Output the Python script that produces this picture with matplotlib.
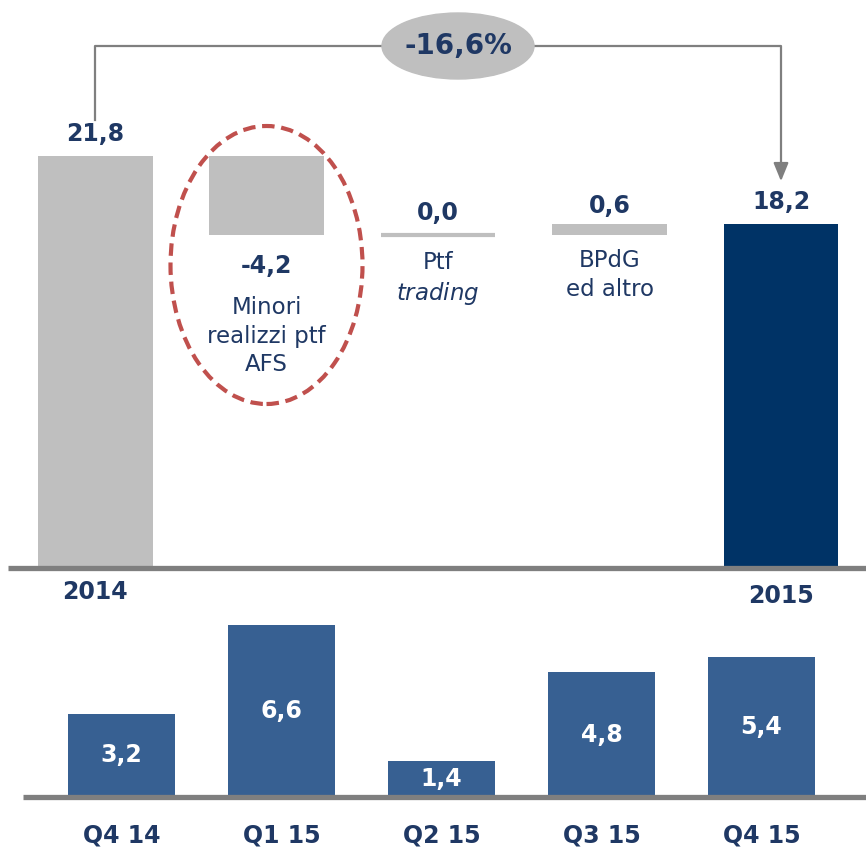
import matplotlib
matplotlib.use("Agg")
import matplotlib.pyplot as plt
from matplotlib.patches import Ellipse

# ---------------------------------------------------------------
#  Dati
# ---------------------------------------------------------------
wf_labels = ["2014", "Minori\nrealizzi ptf\nAFS", "Ptf\n$\\it{trading}$", "BPdG\ned altro", "2015"]
wf_start = 21.8
wf_deltas = [-4.2, 0.0, 0.6]
wf_end = 18.2
wf_value_text = ["21,8", "-4,2", "0,0", "0,6", "18,2"]
variazione = "-16,6%"

trim_labels = ["Q4 14", "Q1 15", "Q2 15", "Q3 15", "Q4 15"]
trim_values = [3.2, 6.6, 1.4, 4.8, 5.4]

# ---------------------------------------------------------------
#  Stile
# ---------------------------------------------------------------
GRIGIO = "#bfbfbf"
NAVY = "#003366"
BLU = "#376092"
TESTO = "#1f3864"
LINEA = "#7f7f7f"
ROSSO = "#c0504d"
FS = 17

plt.rcParams["font.family"] = "DejaVu Sans"

fig = plt.figure(figsize=(8.66, 8.5), dpi=100)
W, H = 866, 850

# ---------------------------------------------------------------
#  Waterfall (sopra)
# ---------------------------------------------------------------
ax = fig.add_axes([0, (H - 612) / H, 1, 612 / H])
px_u = 18.9
ax.set_xlim(-95 / 171.5, (W - 95) / 171.5)
ax.set_ylim(-(612 - 568) / px_u, 568 / px_u)
ax.axis("off")

bottoms, heights, colors = [0], [wf_start], [GRIGIO]
livello = wf_start
for d in wf_deltas:
    nuovo = livello + d
    bottoms.append(min(livello, nuovo))
    heights.append(abs(d))
    colors.append(GRIGIO)
    livello = nuovo
bottoms.append(0)
heights.append(wf_end)
colors.append(NAVY)

xs = list(range(len(heights)))
bw = 115 / 171.5
for i, (x, b, h, c) in enumerate(zip(xs, bottoms, heights, colors)):
    lw = 3 if h == 0 else 0
    ax.bar(x, h, bottom=b, width=bw, color=c, edgecolor=c, linewidth=lw, zorder=2)

# baseline
ax.plot([-0.507, 4.6], [0, 0], color=LINEA, lw=3.8, solid_capstyle="butt", zorder=3)

# etichette valori
for i, x in enumerate(xs):
    top = bottoms[i] + heights[i]
    if i == 1:
        ax.annotate(wf_value_text[i], (x, bottoms[i]), xytext=(0, -31), textcoords="offset pixels",
                    ha="center", va="center", fontsize=FS, fontweight="bold", color=TESTO)
    else:
        off = 18 if i == 3 else 22
        ax.annotate(wf_value_text[i], (x, top), xytext=(0, off), textcoords="offset pixels",
                    ha="center", va="center", fontsize=FS, fontweight="bold", color=TESTO)

# etichette categorie
ax.annotate(wf_labels[0], (xs[0], 0), xytext=(0, -24), textcoords="offset pixels",
            ha="center", va="center", fontsize=FS, fontweight="bold", color=TESTO)
ax.annotate(wf_labels[4], (xs[4], 0), xytext=(0, -28), textcoords="offset pixels",
            ha="center", va="center", fontsize=FS, fontweight="bold", color=TESTO)
ax.annotate(wf_labels[1], (xs[1], bottoms[1]), xytext=(0, -61), textcoords="offset pixels",
            ha="center", va="top", fontsize=FS - 0.5, color=TESTO, linespacing=1.3)
ax.annotate(wf_labels[2], (xs[2], bottoms[2]), xytext=(0, -16), textcoords="offset pixels",
            ha="center", va="top", fontsize=FS - 0.5, color=TESTO, linespacing=1.3)
ax.annotate(wf_labels[3], (xs[3], bottoms[3]), xytext=(0, -14), textcoords="offset pixels",
            ha="center", va="top", fontsize=FS - 0.5, color=TESTO, linespacing=1.3)

# cerchio tratteggiato
ax.add_patch(Ellipse((xs[1], (568 - 265) / px_u), 192 / 171.5, 278 / px_u, fill=False,
                     edgecolor=ROSSO, lw=3, linestyle=(0, (3, 1.6)), zorder=4))

# freccia variazione
y_br = (568 - 46) / px_u
ax.plot([xs[0], xs[0], xs[4], xs[4]], [(568 - 120) / px_u, y_br, y_br, (568 - 170) / px_u],
        color=LINEA, lw=1.6, zorder=1)
ax.annotate("", xy=(xs[4], (568 - 184) / px_u), xytext=(xs[4], (568 - 165) / px_u),
            arrowprops=dict(arrowstyle="-|>,head_width=0.45,head_length=1.1", color=LINEA, lw=1.6))
ax.add_patch(Ellipse(((458 - 95) / 171.5, y_br), 152 / 171.5, 66 / px_u, color=GRIGIO, zorder=3))
ax.text((458 - 95) / 171.5, y_br, variazione, ha="center", va="center", fontsize=20,
        fontweight="bold", color=TESTO, zorder=4)

# ---------------------------------------------------------------
#  Trimestri (sotto)
# ---------------------------------------------------------------
ax2 = fig.add_axes([0, 0, 1, 238 / H])
px_u2 = 26
ax2.set_xlim(-121.5 / 160, (W - 121.5) / 160)
ax2.set_ylim(-(850 - 797) / px_u2, (797 - 612) / px_u2)
ax2.axis("off")
ax2.patch.set_alpha(0)

xq = list(range(len(trim_values)))
ax2.bar(xq, trim_values, width=107 / 160, color=BLU, zorder=2)
ax2.plot([-0.616, 4.7], [0, 0], color=LINEA, lw=3.8, solid_capstyle="butt", zorder=3)
for x, v in zip(xq, trim_values):
    ax2.text(x, v / 2, f"{v:.1f}".replace(".", ","), ha="center", va="center",
             fontsize=FS, fontweight="bold", color="white", zorder=4)
for x, lab in zip(xq, trim_labels):
    ax2.annotate(lab, (x, 0), xytext=(0, -38), textcoords="offset pixels", ha="center",
                 va="center", fontsize=FS, fontweight="bold", color=TESTO)

fig.savefig("out.png", dpi=100)
